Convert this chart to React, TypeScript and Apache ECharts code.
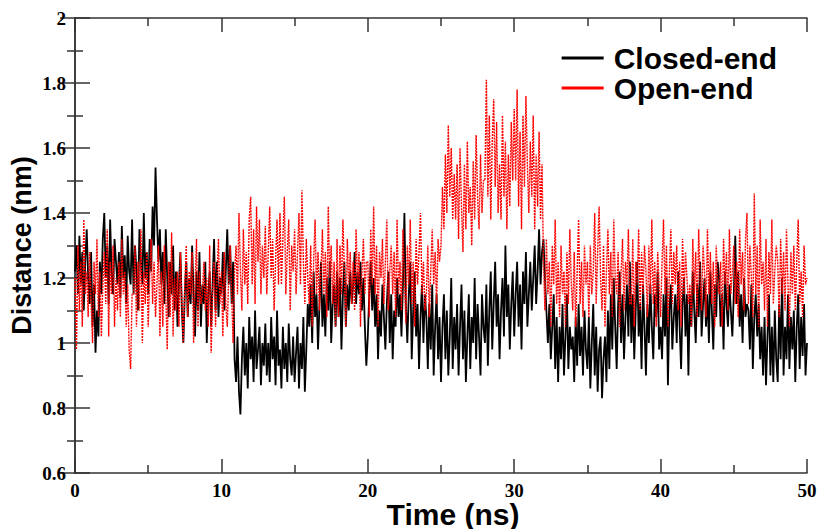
import React, { useEffect, useRef } from "react";
import * as echarts from "echarts";

const timeStep = 0.1; // ns between samples
// one row per nanosecond
const closedEnd: number[] = [
  1.22, 1.30, 1.15, 1.33, 1.18, 1.28, 1.10, 1.25, 1.35, 1.20,
  1.12, 1.28, 1.05, 1.18, 0.97, 1.10, 1.02, 1.25, 1.15, 1.32,
  1.40, 1.20, 1.30, 1.12, 1.38, 1.22, 1.15, 1.32, 1.25, 1.18,
  1.28, 1.14, 1.36, 1.20, 1.27, 1.12, 1.33, 1.22, 1.18, 1.38,
  1.15, 1.30, 1.22, 1.10, 1.35, 1.25, 1.18, 1.40, 1.20, 1.28,
  1.15, 1.32, 1.22, 1.42, 1.30, 1.54, 1.38, 1.25, 1.35, 1.18,
  1.28, 1.12, 1.35, 1.20, 1.08, 1.25, 1.15, 1.30, 1.10, 1.22,
  1.05, 1.18, 1.28, 1.10, 1.00, 1.15, 1.25, 1.08, 1.20, 1.12,
  1.30, 1.15, 1.02, 1.22, 1.10, 1.28, 1.05, 1.18, 1.12, 1.25,
  1.00, 1.15, 1.22, 1.05, 1.18, 1.32, 1.10, 1.25, 1.08, 1.20,
  1.15, 1.28, 1.10, 1.22, 1.35, 1.18, 1.30, 1.12, 1.25, 0.95,
  0.88, 1.02, 0.85, 0.78, 0.95, 1.05, 0.90, 1.00, 0.86, 1.08,
  0.95, 1.02, 0.88, 1.10, 0.92, 0.98, 1.05, 0.87, 1.00, 0.93,
  1.06, 0.90, 1.00, 0.88, 1.08, 0.95, 1.02, 0.87, 1.10, 0.93,
  0.98, 0.86, 1.05, 0.92, 1.00, 0.88, 1.06, 0.95, 0.90, 1.02,
  0.88, 0.97, 1.05, 0.86, 1.00, 0.92, 1.08, 0.85, 0.98, 1.12,
  1.05, 1.18, 1.00, 1.22, 1.08, 1.15, 0.98, 1.12, 1.25, 1.05,
  1.15, 1.02, 1.20, 1.10, 1.25, 1.00, 1.12, 1.18, 1.05, 1.22,
  1.08, 1.20, 0.98, 1.15, 1.25, 1.05, 1.18, 1.10, 1.22, 1.12,
  1.18, 1.28, 1.12, 1.22, 1.15, 1.25, 1.10, 1.20, 1.05, 0.93,
  1.02, 1.15, 1.25, 1.10, 1.20, 1.05, 1.15, 0.95, 1.10, 1.02,
  1.18, 1.08, 0.98, 1.12, 1.22, 1.00, 1.15, 0.95, 1.10, 1.05,
  1.20, 1.08, 1.15, 1.02, 1.18, 1.40, 1.12, 1.00, 1.15, 1.25,
  0.95, 1.10, 1.22, 1.02, 1.12, 0.92, 1.08, 1.18, 1.00, 1.15,
  1.08, 0.92, 1.12, 0.98, 1.18, 0.90, 1.05, 1.15, 0.95, 1.08,
  0.88, 1.05, 1.15, 0.95, 1.10, 0.90, 1.02, 1.20, 0.92, 1.08,
  0.98, 1.12, 0.90, 1.05, 1.18, 0.95, 1.10, 0.88, 1.02, 1.15,
  0.92, 1.08, 1.00, 1.20, 0.95, 1.12, 1.02, 0.90, 1.15, 1.05,
  1.00, 1.18, 0.93, 1.10, 1.22, 0.98, 1.12, 1.25, 1.05, 1.15,
  0.95, 1.10, 1.20, 1.02, 1.30, 1.08, 1.18, 0.98, 1.12, 1.22,
  1.02, 1.15, 1.25, 1.05, 1.18, 0.98, 1.22, 1.12, 1.28, 1.05,
  1.15, 1.25, 1.10, 1.20, 1.30, 1.12, 1.22, 1.35, 1.18, 1.28,
  1.32, 1.20, 1.10, 1.00, 1.12, 0.95, 1.05, 1.15, 0.92, 1.08,
  0.88, 1.05, 0.95, 1.12, 0.90, 1.02, 1.15, 0.92, 1.05, 0.98,
  1.02, 0.88, 1.08, 0.93, 1.12, 0.96, 1.05, 0.90, 1.10, 0.98,
  0.92, 1.08, 0.86, 1.00, 1.12, 0.90, 1.05, 0.85, 0.98, 1.02,
  0.83, 0.95, 1.02, 0.88, 1.10, 0.92, 1.15, 0.98, 1.20, 1.05,
  0.92, 1.12, 1.22, 1.00, 1.15, 0.95, 1.08, 1.18, 1.02, 1.25,
  1.00, 1.15, 0.95, 1.10, 1.25, 1.02, 1.12, 0.92, 1.18, 1.05,
  0.90, 1.12, 1.00, 1.18, 1.05, 0.95, 1.15, 1.08, 1.22, 0.98,
  1.05, 0.95, 1.15, 1.02, 1.20, 0.87, 1.10, 1.18, 0.98, 1.08,
  1.15, 1.00, 1.22, 1.05, 0.92, 1.12, 1.20, 1.02, 1.15, 0.90,
  1.15, 1.05, 1.22, 1.10, 1.00, 1.18, 1.08, 1.25, 1.02, 1.12,
  1.20, 1.05, 1.15, 1.00, 1.22, 1.10, 0.98, 1.18, 1.08, 1.25,
  1.20, 1.05, 1.15, 0.98, 1.22, 1.12, 1.05, 1.18, 1.10, 1.02,
  1.15, 1.33, 1.12, 1.22, 1.05, 1.15, 1.00, 1.20, 1.08, 1.12,
  1.10, 0.98, 1.18, 0.92, 1.08, 1.15, 1.02, 1.12, 0.95, 1.05,
  0.90, 1.08, 0.87, 1.02, 1.15, 0.90, 1.05, 0.88, 1.10, 0.95,
  0.88, 1.12, 0.95, 1.20, 0.90, 1.05, 0.95, 1.15, 0.92, 1.08,
  0.98, 1.10, 0.88, 1.05, 1.15, 0.92, 1.08, 0.96, 1.12, 0.90,
  1.00,
];
const openEnd: number[] = [
  1.20, 0.98, 1.30, 1.10, 1.25, 1.05, 1.38, 1.15, 1.22, 1.08,
  1.28, 1.12, 1.00, 1.25, 1.15, 1.32, 1.08, 1.22, 1.02, 1.18,
  1.28, 1.12, 1.35, 1.02, 1.25, 1.15, 1.30, 1.05, 1.20, 1.10,
  1.25, 1.08, 1.32, 1.15, 1.22, 1.05, 1.18, 0.98, 0.92, 1.15,
  1.15, 1.30, 1.05, 1.25, 1.10, 1.35, 1.00, 1.22, 1.12, 1.28,
  1.05, 1.20, 1.32, 1.12, 1.25, 1.08, 1.18, 1.30, 1.02, 1.22,
  1.05, 1.30, 1.15, 0.98, 1.25, 1.08, 1.34, 1.02, 1.20, 1.10,
  1.22, 1.05, 1.28, 1.12, 1.00, 1.18, 1.30, 1.08, 1.22, 1.15,
  1.28, 1.00, 1.18, 1.32, 1.05, 1.22, 1.12, 1.15, 1.25, 1.10,
  1.20, 1.05, 1.30, 0.97, 1.15, 1.25, 1.05, 1.20, 1.32, 1.12,
  1.22, 1.02, 1.28, 1.12, 1.05, 1.20, 1.30, 1.15, 1.00, 1.22,
  1.30, 1.15, 1.40, 1.22, 1.10, 1.35, 1.18, 1.28, 1.12, 1.38,
  1.45, 1.18, 1.35, 1.12, 1.42, 1.25, 1.38, 1.15, 1.30, 1.20,
  1.36, 1.15, 1.28, 1.42, 1.20, 1.32, 1.10, 1.25, 1.38, 1.18,
  1.40, 1.18, 1.32, 1.45, 1.15, 1.28, 1.38, 1.10, 1.30, 1.22,
  1.35, 1.15, 1.28, 1.40, 1.18, 1.47, 1.25, 1.12, 1.32, 1.20,
  1.12, 1.30, 1.05, 1.25, 1.38, 1.15, 1.28, 1.10, 1.22, 1.35,
  1.15, 1.28, 1.08, 1.42, 1.20, 1.30, 1.12, 1.25, 1.05, 1.32,
  1.08, 1.30, 1.15, 1.38, 1.22, 1.05, 1.32, 1.18, 1.28, 1.12,
  1.25, 1.10, 1.35, 1.18, 1.28, 1.05, 1.22, 1.32, 1.15, 1.25,
  1.25, 1.08, 1.35, 1.18, 1.42, 1.15, 1.30, 1.05, 1.28, 1.20,
  1.32, 1.12, 1.25, 1.38, 1.10, 1.22, 1.30, 1.15, 1.28, 1.08,
  1.38, 1.15, 1.25, 1.10, 1.35, 1.20, 1.06, 1.30, 1.18, 1.38,
  1.12, 1.25, 1.05, 1.32, 1.18, 1.28, 1.40, 1.15, 1.25, 1.10,
  1.15, 1.30, 1.08, 1.22, 1.35, 1.18, 1.28, 1.12, 1.32, 1.25,
  1.30, 1.48, 1.35, 1.58, 1.40, 1.67, 1.45, 1.60, 1.38, 1.52,
  1.38, 1.55, 1.32, 1.60, 1.42, 1.28, 1.55, 1.35, 1.62, 1.40,
  1.48, 1.30, 1.56, 1.38, 1.64, 1.45, 1.35, 1.58, 1.40, 1.50,
  1.50, 1.81, 1.45, 1.70, 1.38, 1.62, 1.75, 1.48, 1.68, 1.40,
  1.55, 1.38, 1.70, 1.45, 1.62, 1.35, 1.58, 1.42, 1.68, 1.50,
  1.72, 1.50, 1.78, 1.42, 1.65, 1.35, 1.70, 1.48, 1.76, 1.55,
  1.40, 1.62, 1.45, 1.70, 1.35, 1.58, 1.42, 1.65, 1.38, 1.55,
  1.25, 1.10, 1.32, 1.15, 1.25, 1.05, 1.30, 1.18, 1.38, 1.12,
  1.25, 1.08, 1.30, 1.15, 1.22, 1.05, 1.28, 1.12, 1.35, 1.18,
  1.10, 1.28, 1.05, 1.22, 1.38, 1.12, 1.25, 1.08, 1.30, 1.18,
  1.25, 1.08, 1.30, 1.15, 1.22, 1.40, 1.12, 1.28, 1.42, 1.20,
  1.10, 1.30, 1.05, 1.22, 1.35, 1.15, 1.28, 1.08, 1.38, 1.20,
  1.15, 1.28, 1.05, 1.22, 1.32, 1.10, 1.25, 1.18, 1.35, 1.12,
  1.12, 1.32, 1.05, 1.25, 1.18, 1.35, 1.10, 1.28, 1.15, 1.30,
  1.22, 1.08, 1.30, 1.15, 1.38, 1.12, 1.25, 1.05, 1.28, 1.18,
  1.08, 1.25, 1.38, 1.15, 1.30, 1.05, 1.22, 1.35, 1.12, 1.28,
  1.18, 1.30, 1.10, 1.25, 1.05, 1.32, 1.15, 1.28, 1.20, 1.12,
  1.18, 1.05, 1.32, 1.15, 1.28, 1.08, 1.35, 1.20, 1.10, 1.30,
  1.22, 1.08, 1.35, 1.15, 1.28, 1.12, 1.25, 1.05, 1.30, 1.18,
  1.15, 1.25, 1.05, 1.32, 1.18, 1.28, 1.10, 1.35, 1.15, 1.22,
  1.30, 1.12, 1.25, 1.08, 1.35, 1.18, 1.28, 1.10, 1.32, 1.40,
  1.12, 1.30, 1.20, 1.08, 1.46, 1.15, 1.30, 1.05, 1.38, 1.18,
  1.25, 1.10, 1.32, 1.05, 1.28, 1.15, 1.38, 1.12, 1.22, 1.30,
  1.25, 1.08, 1.32, 1.15, 1.28, 1.10, 1.35, 1.18, 1.05, 1.28,
  1.15, 1.30, 1.10, 1.25, 1.38, 1.12, 1.22, 1.08, 1.30, 1.18,
  1.20,
];
const seriesNames = ["Closed-end", "Open-end"];
const seriesColors = ["#000000", "#ff0000"];

const toPairs = (vals: number[]) => vals.map((v, i) => [+(i * timeStep).toFixed(2), v]);

export default function App() {
  const ref = useRef<HTMLDivElement>(null);
  useEffect(() => {
    if (!ref.current) return;
    const chart = echarts.init(ref.current, null, { renderer: "svg" });
    const axisLine = { lineStyle: { color: "#333", width: 1.5 } };
    const tickStyle = { color: "#333", width: 1.5 };
    const tickLbl = { fontFamily: "Liberation Serif, Times New Roman, serif", fontWeight: "bold", fontSize: 19, color: "#000" };
    const sans = "Liberation Sans, Arial, sans-serif";
    chart.setOption({
      animation: false,
      backgroundColor: "#fff",
      grid: { left: 75, right: 12, top: 18, bottom: 56, outerBoundsMode: "none", containLabel: false },
      legend: {
        data: seriesNames,
        orient: "vertical",
        right: 42,
        top: 43,
        padding: 0,
        itemGap: 0,
        itemWidth: 42,
        itemHeight: 3,
        icon: "rect",
        textStyle: { fontFamily: sans, fontWeight: "bold", fontSize: 30, lineHeight: 30, color: "#000", padding: [0, 0, 0, 5] },
      },
      xAxis: [
        {
          type: "value", min: 0, max: 50, interval: 10,
          name: "Time (ns)", nameLocation: "middle", nameGap: 29, nameMoveOverlap: false,
          nameTextStyle: { fontFamily: sans, fontWeight: "bold", fontSize: 30, lineHeight: 24, color: "#000", padding: [0, 0, 0, 24] },
          axisLine, splitLine: { show: false },
          axisTick: { inside: true, length: 14, lineStyle: tickStyle },
          minorTick: { show: true, splitNumber: 2, length: 8, lineStyle: tickStyle },
          axisLabel: { ...tickLbl, lineHeight: 16, margin: 9 },
        },
        {
          type: "value", min: 0, max: 50, interval: 10, position: "top",
          axisLine, splitLine: { show: false }, axisLabel: { show: false },
          axisTick: { inside: true, length: 14, lineStyle: tickStyle },
          minorTick: { show: true, splitNumber: 2, length: 8, lineStyle: tickStyle },
        },
      ],
      yAxis: [
        {
          type: "value", min: 0.6, max: 2, interval: 0.2,
          name: "Distance (nm)", nameLocation: "middle", nameGap: 40, nameMoveOverlap: false,
          nameTextStyle: { fontFamily: sans, fontWeight: "bold", fontSize: 27, color: "#000" },
          axisLine, splitLine: { show: false },
          axisTick: { inside: true, length: 15, lineStyle: tickStyle },
          minorTick: { show: true, splitNumber: 2, length: 8, lineStyle: tickStyle },
          axisLabel: { ...tickLbl, margin: 9, formatter: (v: number) => String(+v.toFixed(1)) },
        },
        {
          type: "value", min: 0.6, max: 2, interval: 0.2, position: "right",
          axisLine, splitLine: { show: false }, axisLabel: { show: false },
          axisTick: { inside: true, length: 15, lineStyle: tickStyle },
          minorTick: { show: true, splitNumber: 2, length: 8, lineStyle: tickStyle },
        },
      ],
      series: [
        {
          name: seriesNames[0], type: "line", data: toPairs(closedEnd), showSymbol: false,
          color: seriesColors[0], lineStyle: { width: 1.8, color: seriesColors[0] },
        },
        {
          name: seriesNames[1], type: "line", data: toPairs(openEnd), showSymbol: false,
          color: seriesColors[1], lineStyle: { width: 1.4, color: seriesColors[1], type: [2, 1] },
        },
      ],
    });
    return () => chart.dispose();
  }, []);
  return <div ref={ref} style={{ width: 819, height: 529, position: "absolute", left: 0, top: 0 }} />;
}
